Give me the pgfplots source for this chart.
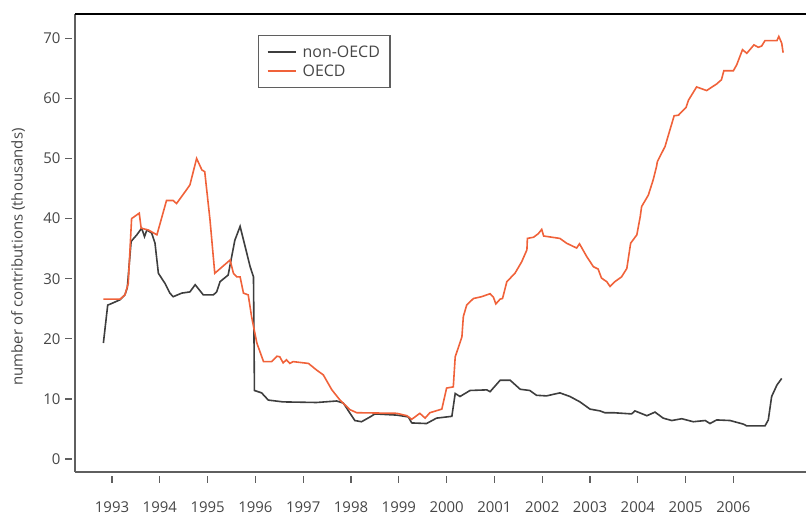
\documentclass[border=0pt]{standalone}
\usepackage{pgfplots}
\pgfplotsset{compat=1.18}
\usepackage{pgfplotstable}
\usepackage{fontspec}
\setmainfont{Open Sans}
\definecolor{oecd}{RGB}{240,98,58}
\definecolor{nonoecd}{RGB}{62,62,62}
\definecolor{axgray}{RGB}{95,95,95}
\definecolor{txt}{RGB}{70,70,70}

\pgfplotstableread{
year val
1992.82 19.3
1992.91 25.6
1993.00 25.9
1993.17 26.5
1993.27 27.3
1993.32 28.5
1993.40 36.2
1993.52 37.3
1993.62 38.4
1993.68 37.0
1993.73 38.1
1993.83 37.6
1993.90 35.9
1993.97 30.9
1994.11 29.2
1994.21 27.6
1994.28 27.0
1994.46 27.6
1994.63 27.8
1994.74 29.0
1994.91 27.3
1995.12 27.3
1995.19 27.8
1995.26 29.5
1995.43 30.6
1995.57 36.4
1995.68 38.7
1995.89 32.0
1995.96 30.3
1995.98 11.4
1996.13 11.0
1996.27 9.8
1996.58 9.5
1997.28 9.4
1997.70 9.65
1997.84 9.3
1997.98 7.6
1998.08 6.4
1998.22 6.2
1998.40 7.0
1998.50 7.5
1998.96 7.3
1999.20 7.0
1999.27 6.0
1999.58 5.9
1999.79 6.8
2000.11 7.1
2000.18 10.9
2000.28 10.4
2000.49 11.4
2000.84 11.5
2000.91 11.2
2001.12 13.1
2001.33 13.1
2001.40 12.6
2001.54 11.6
2001.74 11.4
2001.88 10.6
2002.09 10.5
2002.37 11.0
2002.58 10.4
2002.79 9.5
2003.00 8.3
2003.21 8.0
2003.31 7.7
2003.49 7.7
2003.87 7.5
2003.94 8.0
2004.19 7.2
2004.36 7.8
2004.53 6.8
2004.71 6.4
2004.92 6.7
2005.16 6.2
2005.41 6.4
2005.51 5.9
2005.65 6.5
2005.93 6.4
2006.21 5.8
2006.28 5.5
2006.66 5.5
2006.73 6.5
2006.80 10.4
2006.91 12.3
2007.01 13.4
}\nonoecdtable

\pgfplotstableread{
year val
1992.82 26.6
1993.17 26.6
1993.27 27.3
1993.34 29.2
1993.41 40.0
1993.57 40.9
1993.61 38.4
1993.76 38.1
1993.94 37.3
1994.14 43.0
1994.28 43.0
1994.35 42.5
1994.56 44.8
1994.63 45.6
1994.77 50.0
1994.88 48.1
1994.94 47.8
1995.05 39.8
1995.15 30.9
1995.47 33.1
1995.54 30.9
1995.61 30.3
1995.68 30.3
1995.75 27.6
1995.85 27.3
1995.92 23.7
1996.03 19.3
1996.17 16.2
1996.34 16.2
1996.45 17.1
1996.51 17.0
1996.58 16.0
1996.65 16.5
1996.72 15.9
1996.79 16.2
1997.11 15.9
1997.28 14.8
1997.42 14.0
1997.60 11.5
1997.77 9.8
1997.98 8.2
1998.12 7.7
1998.96 7.6
1999.17 7.2
1999.27 6.6
1999.44 7.6
1999.55 6.8
1999.65 7.7
1999.90 8.3
2000.00 11.8
2000.14 12.0
2000.18 17.0
2000.32 20.3
2000.35 23.7
2000.42 25.6
2000.56 26.7
2000.73 27.0
2000.91 27.5
2000.98 26.9
2001.03 25.8
2001.12 26.6
2001.17 26.7
2001.26 29.5
2001.43 30.9
2001.57 32.8
2001.68 34.8
2001.69 36.7
2001.82 36.9
2001.92 37.5
2001.99 38.2
2002.03 37.1
2002.37 36.7
2002.51 35.9
2002.72 35.1
2002.78 35.8
2002.93 33.7
2003.07 32.0
2003.17 31.6
2003.24 30.1
2003.35 29.5
2003.42 28.7
2003.52 29.5
2003.66 30.3
2003.77 31.7
2003.85 35.9
2003.98 37.3
2004.05 40.3
2004.08 42.0
2004.22 43.9
2004.32 46.4
2004.39 48.6
2004.41 49.5
2004.57 52.0
2004.67 54.7
2004.76 57.1
2004.85 57.2
2005.01 58.5
2005.06 59.7
2005.23 61.9
2005.44 61.3
2005.65 62.4
2005.75 63.1
2005.80 64.6
2006.00 64.6
2006.07 65.6
2006.19 68.1
2006.28 67.5
2006.43 68.9
2006.52 68.5
2006.59 68.7
2006.66 69.6
2006.91 69.6
2006.95 70.3
2007.01 69.2
2007.04 67.6
}\oecdtable

\begin{document}
\begin{tikzpicture}[x=1bp,y=1bp]
\path[use as bounding box] (0,0) rectangle (806,514);
\begin{axis}[
  at={(75bp,42bp)}, anchor=south west,
  scale only axis, width=731bp, height=458bp,
  xmin=1992.226, xmax=2007.519,
  ymin=-2.163, ymax=74.04,
  axis lines=left,
  axis line style={-, draw=axgray, line width=1.3bp},
  tick align=outside,
  major tick length=7bp,
  xtick={1993,1994,1995,1996,1997,1998,1999,2000,2001,2002,2003,2004,2005,2006},
  xticklabels={1993,1994,1995,1996,1997,1998,1999,2000,2001,2002,2003,2004,2005,2006},
  ytick={0,10,20,30,40,50,60,70},
  yticklabels={0,10,20,30,40,50,60,70},
  xtick style={draw=axgray, line width=1.3bp, yshift=-4bp},
  ytick style={draw=axgray, line width=1.3bp, xshift=-3bp},
  minor tick num=0,
  tick label style={font=\fontsize{15}{15}\selectfont, text=txt},
  xticklabel style={inner sep=1bp, yshift=-21bp},
  yticklabel style={xshift=-4bp},
  legend style={at={(rel axis cs:0.2503,0.954)}, anchor=north west,
    draw=axgray, line width=1.3bp, font=\fontsize{16}{16}\selectfont, text=txt,
    inner xsep=8bp, inner ysep=8bp, row sep=2bp, cells={anchor=west},
    /tikz/every odd column/.append style={column sep=4bp}},
  legend image code/.code={\draw[#1, line width=2bp] (0bp,0bp) -- (28bp,0bp);},
  clip=false,
]
\addplot[nonoecd, line width=1.6bp] table[x=year, y=val] {\nonoecdtable};
\addlegendentry{non-OECD}
\addplot[oecd, line width=1.6bp] table[x=year, y=val] {\oecdtable};
\addlegendentry{OECD}
\draw[black, line width=1.6bp] (rel axis cs:0,1) -- (rel axis cs:1,1);
\end{axis}
\node[rotate=90, font=\fontsize{15}{15}\selectfont, text=txt] at (18,257) {number of contributions (thousands)};
\end{tikzpicture}
\end{document}
